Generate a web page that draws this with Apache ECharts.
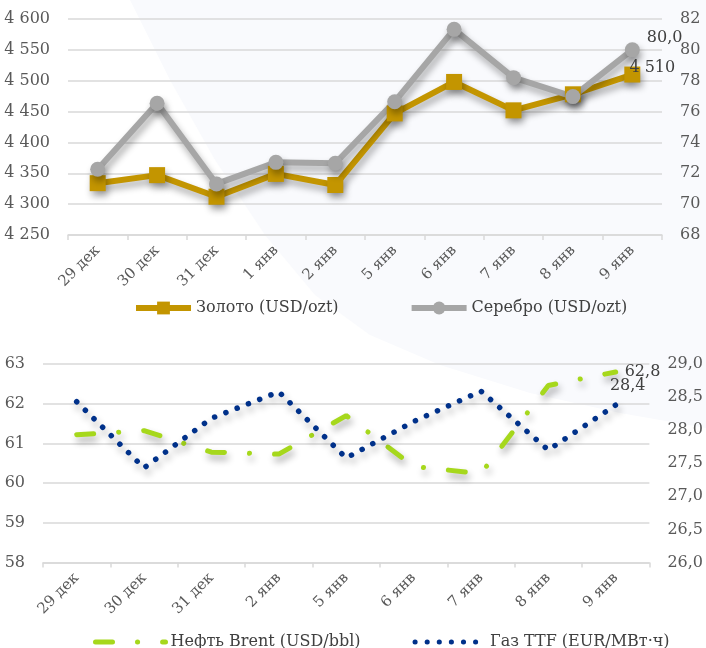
<!DOCTYPE html>
<html>
<head>
<meta charset="utf-8">
<script src="https://cdn.jsdelivr.net/npm/echarts@6/dist/echarts.min.js"></script>
<style>
  html, body { margin: 0; padding: 0; background: #fff; }
  #chart { width: 706px; height: 648px; }
</style>
</head>
<body>
<div id="chart"></div>
<script>
const metalDays = ['29 дек', '30 дек', '31 дек', '1 янв', '2 янв', '5 янв', '6 янв', '7 янв', '8 янв', '9 янв']
const gold = [4334, 4347, 4312, 4349, 4331, 4447, 4498, 4452, 4478, 4510]
const silver = [72.26, 76.54, 71.31, 72.71, 72.65, 76.64, 81.33, 78.2, 76.97, 80.0]

const energyDays = ['29 дек', '30 дек', '31 дек', '2 янв', '5 янв', '6 янв', '7 янв', '8 янв', '9 янв']
const brent = [61.22, 61.32, 60.78, 60.73, 61.7, 60.42, 60.24, 62.46, 62.8]
const ttf = [28.43, 27.43, 28.18, 28.58, 27.58, 28.13, 28.59, 27.7, 28.38]

const FONT = 'DejaVu Serif'
const GRID_COLOR = '#d9d9d9'
const LABEL_COLOR = '#595959'

const thousands = v => String(Math.round(v)).replace(/\B(?=(\d{3})+(?!\d))/g, ' ')
const comma1 = v => v.toFixed(1).replace('.', ',')

// only the last point carries a label
const withLastLabel = (arr, label) =>
  arr.map((v, i) => (i === arr.length - 1 ? { value: v, label: { show: true, ...label } } : v))

const shadow = {
  shadowColor: 'rgba(0,0,0,0.33)',
  shadowBlur: 7,
  shadowOffsetX: 2,
  shadowOffsetY: 5
}

const catAxis = (gridIndex, data) => ({
  type: 'category',
  gridIndex,
  data,
  boundaryGap: true,
  axisLine: { lineStyle: { color: GRID_COLOR, width: 1.5 } },
  axisTick: { show: true, length: 5, lineStyle: { color: GRID_COLOR, width: 1.5 } },
  axisLabel: {
    rotate: 45,
    margin: 13,
    interval: 0,
    color: LABEL_COLOR,
    fontFamily: FONT,
    fontSize: 15
  }
})

const valAxis = (gridIndex, min, max, interval, formatter, showSplit) => ({
  type: 'value',
  gridIndex,
  min,
  max,
  interval,
  axisLine: { show: false },
  axisTick: { show: false },
  splitLine: { show: showSplit, lineStyle: { color: GRID_COLOR, width: 1.5 } },
  axisLabel: {
    margin: 18,
    color: LABEL_COLOR,
    fontFamily: FONT,
    fontSize: 16,
    formatter
  }
})

const chart = echarts.init(document.getElementById('chart'), null, { renderer: 'canvas' })

chart.setOption({
  animation: false,
  backgroundColor: '#fff',
  graphic: [{
    type: 'polygon',
    z: -10,
    shape: {
      points: [[130, 0], [170, 80], [215, 160], [265, 235], [315, 295], [370, 335],
        [440, 365], [530, 393], [620, 413], [706, 428], [706, 0]]
    },
    style: { fill: '#f9fafd' }
  }],
  grid: [
    { left: 68, right: 44, top: 19, height: 216 },
    { left: 43, right: 53, top: 364, height: 198.5 }
  ],
  legend: [
    {
      left: 128,
      top: 295,
      itemWidth: 55,
      itemHeight: 16,
      itemGap: 70,
      lineStyle: { width: 6 },
      textStyle: { fontFamily: FONT, fontSize: 16, color: '#404040' },
      data: ['Золото (USD/ozt)', 'Серебро (USD/ozt)']
    },
    {
      left: 88,
      top: 629,
      itemWidth: 70,
      itemHeight: 14,
      itemGap: 52,
      itemStyle: { opacity: 0 },
      lineStyle: { width: 5 },
      textStyle: { fontFamily: FONT, fontSize: 16, color: '#404040' },
      data: ['Нефть Brent (USD/bbl)', 'Газ TTF (EUR/MВт·ч)']
    }
  ],
  xAxis: [catAxis(0, metalDays), catAxis(1, energyDays)],
  yAxis: [
    valAxis(0, 4250, 4600, 50, v => thousands(v), true),
    valAxis(0, 68, 82, 2, v => String(v), false),
    valAxis(1, 58, 63, 1, v => String(v), true),
    valAxis(1, 26, 29, 0.5, v => comma1(v), false)
  ],
  series: [
    {
      name: 'Золото (USD/ozt)',
      type: 'line',
      xAxisIndex: 0,
      yAxisIndex: 0,
      symbol: 'rect',
      symbolSize: 16,
      color: '#c39500',
      lineStyle: { width: 6, color: '#c39500', ...shadow },
      itemStyle: { color: '#c39500', ...shadow },
      label: { fontFamily: FONT, fontSize: 16, color: '#404040' },
      data: withLastLabel(gold, {
        position: 'top',
        offset: [20, 14],
        formatter: p => thousands(p.value)
      })
    },
    {
      name: 'Серебро (USD/ozt)',
      type: 'line',
      xAxisIndex: 0,
      yAxisIndex: 1,
      symbol: 'circle',
      symbolSize: 15,
      color: '#a6a6a6',
      lineStyle: { width: 6, color: '#a6a6a6', ...shadow },
      itemStyle: { color: '#a6a6a6', ...shadow },
      label: { fontFamily: FONT, fontSize: 16, color: '#404040' },
      data: withLastLabel(silver, {
        position: 'right',
        offset: [2, -12],
        formatter: p => comma1(p.value)
      })
    },
    {
      name: 'Нефть Brent (USD/bbl)',
      type: 'line',
      xAxisIndex: 1,
      yAxisIndex: 2,
      symbol: 'circle',
      symbolSize: 2,
      showSymbol: true,
      color: '#a6d81c',
      itemStyle: { color: 'rgba(0,0,0,0)' },
      lineStyle: {
        width: 5,
        color: '#a6d81c',
        type: [17, 25, 0.1, 25],
        cap: 'round',
        ...shadow
      },
      label: { fontFamily: FONT, fontSize: 16, color: '#404040', opacity: 1 },
      data: withLastLabel(brent, {
        position: 'right',
        distance: 8,
        formatter: p => comma1(p.value)
      })
    },
    {
      name: 'Газ TTF (EUR/MВт·ч)',
      type: 'line',
      xAxisIndex: 1,
      yAxisIndex: 3,
      symbol: 'circle',
      symbolSize: 2,
      showSymbol: true,
      color: '#00318a',
      itemStyle: { color: 'rgba(0,0,0,0)' },
      lineStyle: {
        width: 5.5,
        color: '#00318a',
        type: [0.1, 12],
        cap: 'round',
        ...shadow
      },
      label: { fontFamily: FONT, fontSize: 16, color: '#404040', opacity: 1 },
      data: withLastLabel(ttf, {
        position: 'top',
        distance: 10,
        offset: [12, 0],
        formatter: p => comma1(p.value)
      })
    }
  ]
})
</script>
</body>
</html>
